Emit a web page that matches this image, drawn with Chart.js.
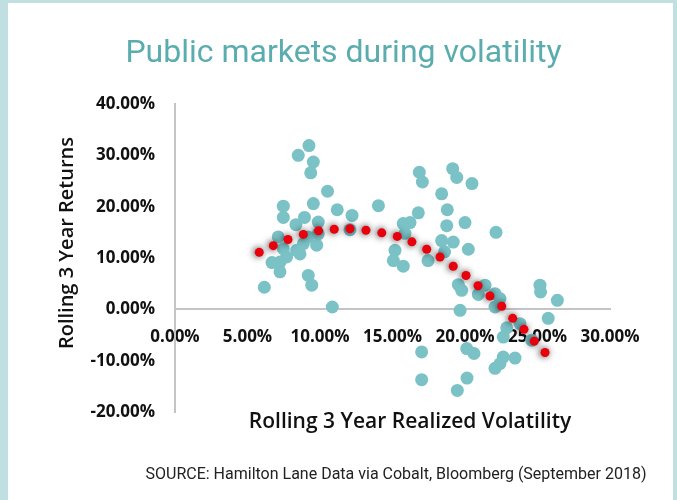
<!DOCTYPE html>
<html>
<head>
<meta charset="utf-8">
<script src="https://cdn.jsdelivr.net/npm/chart.js@4"></script>
<style>
  html, body { margin: 0; padding: 0; }
  body { width: 677px; height: 500px; background: #bfdfe0; position: relative; overflow: hidden; }
  #wrap { position: absolute; left: 8px; top: 3px; width: 665px; height: 497px; background: #ffffff; }
  canvas { display: block; }
</style>
</head>
<body>
<div id="wrap"><canvas id="c" width="665" height="497"></canvas></div>
<script>
// ---- Data (percent values) ----
const chartTitle = 'Public markets during volatility';
const xAxisTitle = 'Rolling 3 Year Realized Volatility';
const yAxisTitle = 'Rolling 3 Year Returns';
const sourceNote = 'SOURCE: Hamilton Lane Data via Cobalt, Bloomberg (September 2018)';

const xTickValues = [0, 5, 10, 15, 20, 25, 30];
const xTickLabels = ['0.00%', '5.00%', '10.00%', '15.00%', '20.00%', '25.00%', '30.00%'];
const yTickValues = [-20, -10, 0, 10, 20, 30, 40];
const yTickLabels = ['-20.00%', '-10.00%', '0.00%', '10.00%', '20.00%', '30.00%', '40.00%'];

// Observed rolling 3-year volatility (x) and returns (y), %
const observedVolatility = [
  9.24, 8.50, 9.54, 9.36, 10.52, 7.47, 9.54, 11.19, 12.21, 7.47,
  8.93, 9.88, 8.34, 12.07, 7.12, 9.88, 9.77, 8.85, 8.39, 7.47,
  7.70, 7.24, 6.69, 7.24, 9.19, 9.43, 6.16, 10.85, 8.62, 9.17,
  16.85, 17.06, 19.15, 19.43, 20.48, 18.39, 14.03, 18.78, 16.78, 15.74,
  16.21, 18.74, 20.00, 22.14, 15.86, 18.39, 19.19, 20.23, 15.17, 18.59,
  15.06, 15.74, 17.45, 19.54, 19.77, 20.92, 21.38, 22.07, 22.41, 22.07,
  19.66, 25.17, 25.21, 26.37, 25.74, 22.88, 23.79, 22.64, 24.60, 17.01,
  20.12, 20.62, 22.64, 23.45, 22.41, 22.07, 17.01, 20.14, 19.47
];
const observedReturns = [
  31.9, 30.0, 28.7, 26.6, 23.0, 20.1, 20.6, 19.4, 18.3, 17.9,
  17.9, 17.0, 16.5, 15.5, 14.1, 14.7, 12.5, 12.8, 11.5, 11.8,
  10.2, 9.2, 9.1, 7.3, 6.6, 4.7, 4.3, 0.45, 10.8, 14.1,
  26.7, 24.8, 27.4, 25.7, 24.5, 22.5, 20.2, 19.4, 18.8, 16.7,
  16.9, 16.3, 16.9, 15.0, 14.8, 13.4, 13.1, 11.7, 11.5, 11.2,
  9.5, 8.4, 9.5, 4.8, 3.7, 2.9, 4.7, 3.05, 2.1, 0.45,
  -0.2, 4.7, 3.4, 1.75, -1.75, -3.6, -2.8, -5.4, -6.0, -8.3,
  -7.65, -8.6, -9.3, -9.5, -10.6, -11.5, -13.7, -13.4, -15.8
];

// Trend (fitted) points
const trendVolatility = [
  5.81, 6.78, 7.79, 8.85, 9.90, 10.98, 12.07, 13.17, 14.26, 15.33, 16.34,
  17.36, 18.28, 19.19, 20.07, 20.90, 21.72, 22.53, 23.29, 24.07, 24.78, 25.52
];
const trendReturns = [
  11.1, 12.4, 13.6, 14.6, 15.3, 15.6, 15.7, 15.4, 14.9, 14.2, 13.15,
  11.7, 10.2, 8.4, 6.6, 4.6, 2.6, 0.6, -1.75, -3.9, -6.2, -8.4
];

const toPoints = (xs, ys) => xs.map((x, i) => ({ x: x, y: ys[i] }));

const shadowPlugin = {
  id: 'shadow',
  beforeDatasetDraw(chart, args) {
    if (chart.data.datasets[args.index].label === 'Trend') {
      const ctx = chart.ctx;
      ctx.save();
      ctx.shadowColor = 'rgba(0,0,0,0.8)';
      ctx.shadowBlur = 7;
      ctx.shadowOffsetX = -1;
      ctx.shadowOffsetY = 0;
    }
  },
  afterDatasetDraw(chart, args) {
    if (chart.data.datasets[args.index].label === 'Trend') {
      chart.ctx.restore();
    }
  }
};

const textPlugin = {
  id: 'texts',
  afterDraw(chart) {
    const ctx = chart.ctx;
    ctx.save();
    // Title
    ctx.fillStyle = '#5aacae';
    ctx.font = '400 32px Roboto';
    ctx.textAlign = 'center';
    ctx.textBaseline = 'alphabetic';
    ctx.fillText(chartTitle, 335.5, 59);
    // X axis title
    ctx.fillStyle = '#111111';
    ctx.font = '600 21px "Open Sans"';
    ctx.fillText(xAxisTitle, 402, 425);
    // Y axis title
    ctx.font = '600 20px "Open Sans"';
    ctx.save();
    ctx.translate(65, 240);
    ctx.rotate(-Math.PI / 2);
    ctx.fillText(yAxisTitle, 0, 0);
    ctx.restore();
    // Source
    ctx.fillStyle = '#222222';
    ctx.font = '400 16px Roboto';
    ctx.fillText(sourceNote, 388, 476);
    ctx.restore();
  }
};

new Chart(document.getElementById('c'), {
  type: 'scatter',
  data: {
    datasets: [
      {
        label: 'Trend',
        data: toPoints(trendVolatility, trendReturns),
        backgroundColor: '#e8000d',
        borderWidth: 0,
        pointRadius: 4.5,
        order: 0
      },
      {
        label: 'Observed',
        data: toPoints(observedVolatility, observedReturns),
        backgroundColor: 'rgb(122,194,198)',
        borderWidth: 0,
        pointRadius: 6.5,
        order: 1
      }
    ]
  },
  options: {
    responsive: false,
    animation: false,
    clip: false,
    layout: { padding: { left: 0, right: 63, top: 101, bottom: 88 } },
    plugins: {
      legend: { display: false },
      tooltip: { enabled: false },
      title: { display: false }
    },
    scales: {
      x: {
        type: 'linear',
        position: { y: 0 },
        min: 0, max: 30,
        afterBuildTicks: (s) => { s.ticks = xTickValues.map(v => ({ value: v })); },
        ticks: {
          autoSkip: false,
          maxRotation: 0,
          padding: 18,
          color: '#111111',
          font: { family: '"Open Sans"', weight: 'bold', size: 17 },
          callback: (v) => xTickLabels[xTickValues.indexOf(v)]
        },
        grid: { display: false, drawTicks: false },
        border: { display: true, color: '#c4c4c4', width: 2 }
      },
      y: {
        type: 'linear',
        position: 'left',
        min: -20, max: 40,
        afterBuildTicks: (s) => { s.ticks = yTickValues.map(v => ({ value: v })); },
        afterFit: (s) => { s.width = 167; },
        ticks: {
          autoSkip: false,
          padding: 20,
          color: '#111111',
          font: { family: '"Open Sans"', weight: 'bold', size: 17 },
          callback: (v) => yTickLabels[yTickValues.indexOf(v)]
        },
        grid: { display: false, drawTicks: false },
        border: { display: true, color: '#c4c4c4', width: 2 }
      }
    }
  },
  plugins: [shadowPlugin, textPlugin]
});
</script>
</body>
</html>
